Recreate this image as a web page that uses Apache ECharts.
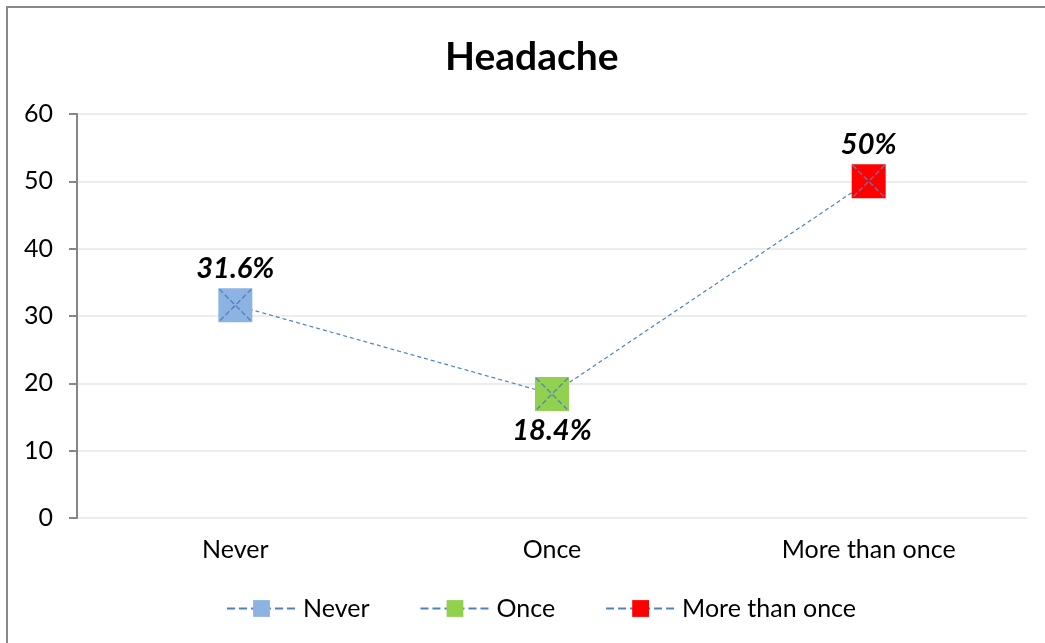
<!DOCTYPE html>
<html>
<head>
<meta charset="utf-8">
<script src="https://cdn.jsdelivr.net/npm/echarts@6/dist/echarts.min.js"></script>
<style>
html,body{margin:0;padding:0;background:#fff;}
#chart{width:1045px;height:643px;}
</style>
</head>
<body>
<div id="chart"></div>
<script>
const categories = ['Never', 'Once', 'More than once'];
const values = [31.6, 18.4, 50];
const pointColors = ['#8DB3E2', '#92D050', '#FF0000'];
const yTicks = [0, 10, 20, 30, 40, 50, 60];

const FONT = 'Lato, "Open Sans", sans-serif';
const lineBlue = '#4F81BD';

const chart = echarts.init(document.getElementById('chart'), null, {renderer: 'canvas'});

const legendSeries = categories.map((name, i) => ({
  name: name,
  type: 'line',
  data: [],
  symbol: 'rect',
  itemStyle: {color: pointColors[i]},
  lineStyle: {color: lineBlue, type: 'dashed', width: 1}
}));

const option = {
  backgroundColor: '#fff',
  animation: false,
  title: {
    text: 'Headache',
    left: 440,
    top: 33,
    textStyle: {fontFamily: FONT, fontSize: 39, fontWeight: 'bold', color: '#000'}
  },
  graphic: [{
    type: 'rect',
    shape: {x: 7, y: 7, width: 1200, height: 800},
    style: {fill: 'none', stroke: '#888888', lineWidth: 2},
    silent: true
  }],
  legend: {
    data: categories,
    top: 591,
    left: 221,
    itemWidth: 69,
    itemHeight: 21,
    itemGap: 50,
    textStyle: {fontFamily: FONT, fontSize: 25, color: '#000', padding: [0, 0, 0, 2]}
  },
  grid: {left: 77, right: 18, top: 114, bottom: 125},
  xAxis: {
    type: 'category',
    data: categories,
    axisLine: {show: false},
    axisTick: {show: false},
    axisLabel: {fontFamily: FONT, fontSize: 25, color: '#000', margin: 19},
    splitLine: {show: false}
  },
  yAxis: {
    type: 'value',
    min: yTicks[0],
    max: yTicks[yTicks.length - 1],
    interval: 10,
    axisLine: {show: true, lineStyle: {color: '#868686', width: 2}},
    axisTick: {show: true, inside: false, length: 8, lineStyle: {color: '#868686', width: 2}},
    axisLabel: {fontFamily: FONT, fontSize: 25, color: '#000', margin: 24},
    splitLine: {show: true, lineStyle: {color: '#E6E6E6', width: 1.5}}
  },
  series: [
    {
      name: 'Headache',
      type: 'line',
      data: values.map((v, i) => ({
        value: v,
        itemStyle: {color: pointColors[i]},
        label: {position: i === 1 ? 'bottom' : 'top'}
      })),
      symbol: 'rect',
      symbolSize: 34,
      lineStyle: {color: lineBlue, type: [4, 3], width: 1.2},
      label: {
        show: true,
        formatter: p => p.value + '%',
        fontFamily: FONT,
        fontSize: 29,
        fontWeight: 'bold',
        fontStyle: 'italic',
        color: '#000',
        distance: 5
      },
      z: 2
    },
    {
      name: 'marks',
      type: 'line',
      data: values,
      symbol: 'path://M0,0L10,10M10,0L0,10',
      symbolSize: 32,
      showSymbol: true,
      lineStyle: {opacity: 0},
      itemStyle: {color: 'none', borderColor: lineBlue, borderWidth: 1.3, borderType: 'dashed'},
      silent: true,
      z: 3
    },
    ...legendSeries
  ]
};
chart.setOption(option);
</script>
</body>
</html>
